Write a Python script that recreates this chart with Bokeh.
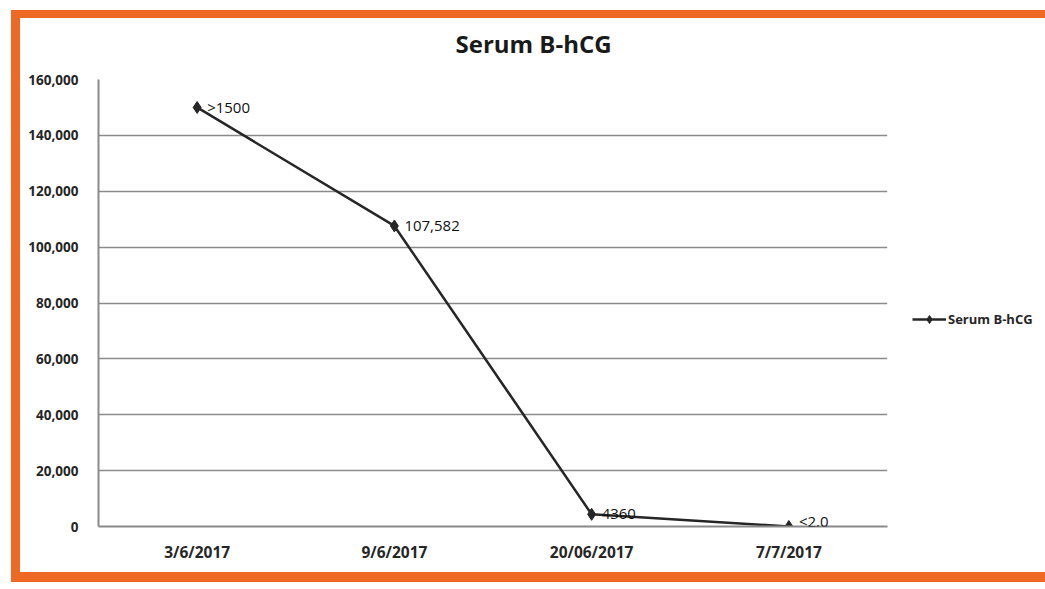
from bokeh.plotting import figure
from bokeh.models import (ColumnDataSource, FactorRange, Range1d, NumeralTickFormatter,
                          Legend, LegendItem, Label, SingleIntervalTicker)
from bokeh.embed import file_html
from bokeh.resources import INLINE

dates = ["3/6/2017", "9/6/2017", "20/06/2017", "7/7/2017"]
values = [150000, 107582, 4360, 0]
point_labels = [">1500", "107,582", "4360", "<2.0"]
series_name = "Serum B-hCG"

FONT = "Open Sans"
src = ColumnDataSource(dict(x=dates, y=values, lab=point_labels))

p = figure(width=1043, height=585, output_backend="svg", toolbar_location=None,
           x_range=FactorRange(*dates), y_range=Range1d(0, 160000),
           min_border_left=98, min_border_right=30, min_border_top=79, min_border_bottom=59,
           frame_width=789, frame_height=447)
p.stylesheets = [""":host::after {
  content: ""; position: absolute; left: 11px; top: 10px; right: 0px; bottom: 3px;
  border-style: solid; border-color: #EE6A24; border-width: 8px 3px 10px 9px;
  pointer-events: none; z-index: 100; box-sizing: border-box;
}"""]

p.title.text = "Serum B-hCG"
p.title.align = "left"
p.title.offset = 357
p.title.text_font = FONT
p.title.text_font_size = "24px"
p.title.text_font_style = "bold"
p.title.text_color = "#1a1a1a"
p.title.standoff = 40

p.outline_line_color = None
p.xgrid.grid_line_color = None
p.ygrid.grid_line_color = "#8a8a8a"
p.ygrid.grid_line_width = 1.5

p.yaxis.ticker = SingleIntervalTicker(interval=20000)
p.yaxis.formatter = NumeralTickFormatter(format="0,0")
for ax in (p.xaxis[0], p.yaxis[0]):
    ax.axis_line_color = "#8a8a8a"
    ax.axis_line_width = 2
    ax.major_tick_line_color = None
    ax.minor_tick_line_color = None
    ax.major_label_text_font = FONT
    ax.major_label_text_font_style = "bold"
    ax.major_label_text_color = "#262626"
p.yaxis.major_label_text_font_size = "13.5px"
p.xaxis.major_label_text_font_size = "15.5px"
p.yaxis.major_label_standoff = 14
p.xaxis.major_label_standoff = 8

r_line = p.line("x", "y", source=src, line_color="#262626", line_width=2.5)
r_pts = p.scatter("x", "y", source=src, marker="diamond", size=12,
                  fill_color="#262626", line_color="#262626")

# category i is centred at synthetic coordinate i + 0.5 on the factor range;
# a label sitting on the zero line is lifted slightly so it stays inside the plot area
for i, (v, t) in enumerate(zip(values, point_labels)):
    p.add_layout(Label(x=i + 0.5, y=v, text=t, x_offset=10, y_offset=(6 if v == 0 else 0),
                       text_baseline="middle", text_font=FONT, text_font_size="15px",
                       text_color="#111111"))

legend = Legend(items=[LegendItem(label=series_name, renderers=[r_line, r_pts])],
                location=(25, 197), padding=0, margin=0, border_line_color=None,
                background_fill_alpha=0, glyph_width=34, label_standoff=2,
                label_text_font=FONT, label_text_font_size="13px",
                label_text_font_style="bold", label_text_color="#262626")
p.add_layout(legend, "right")

open("out.html", "w").write(file_html(p, INLINE))
